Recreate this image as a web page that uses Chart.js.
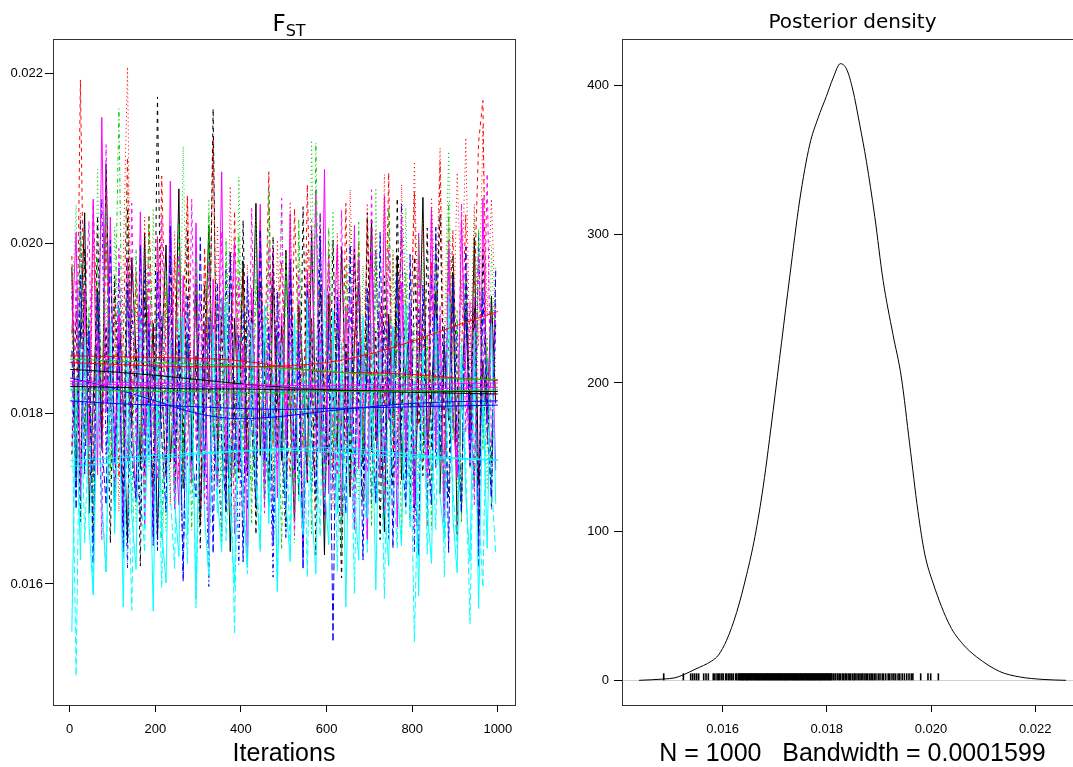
<!DOCTYPE html>
<html><head><meta charset="utf-8">
<script src="https://cdn.jsdelivr.net/npm/chart.js@4"></script>
<style>
html,body{margin:0;padding:0;overflow:hidden;background:#fff;width:1073px;height:767px}
#c1{position:absolute;left:0;top:0}
#c2{position:absolute;left:540px;top:0}
</style>
</head><body>
<canvas id="c1" width="545" height="767"></canvas>
<canvas id="c2" width="560" height="767"></canvas>
<script>
// ---------- DATA ----------
const ITER = [5,15,25,35,45,55,65,75,85,95,105,115,125,135,145,155,165,175,185,195,205,215,225,235,245,255,265,275,285,295,305,315,325,335,345,355,365,375,385,395,405,415,425,435,445,455,465,475,485,495,505,515,525,535,545,555,565,575,585,595,605,615,625,635,645,655,665,675,685,695,705,715,725,735,745,755,765,775,785,795,805,815,825,835,845,855,865,875,885,895,905,915,925,935,945,955,965,975,985,995];
const SMOOTH_ITER = [1,100,200,300,400,500,600,700,800,900,1000];

const CHAIN_1 = [.01972,.01724,.01891,.02036,.01683,.01815,.01947,.01762,.02093,.01838,.01691,.01924,.01807,.01648,.01983,.01869,.01735,.02012,.01789,.01906,.01652,.01874,.01998,.01743,.01831,.02064,.01712,.01893,.01776,.01958,.01669,.01847,.02021,.01794,.01715,.01936,.01862,.01638,.01912,.01803,.01979,.01727,.01858,.02047,.01751,.01884,.01692,.01963,.01821,.01745,.01992,.01806,.01673,.01927,.01848,.01719,.02015,.01783,.01869,.01634,.01941,.01825,.01757,.01996,.01813,.01702,.01888,.01954,.01741,.01859,.02028,.01768,.01834,.01661,.01917,.01795,.01986,.01722,.01853,.01906,.01689,.01842,.02054,.01763,.01817,.01944,.01706,.01878,.01792,.01965,.01658,.01831,.01923,.01774,.02007,.01716,.01862,.01795,.01938,.01812];
const CHAIN_2 = [.01985,.01762,.02192,.01843,.01714,.02046,.01891,.01757,.02013,.01806,.01948,.01725,.01882,.02101,.01793,.01967,.01836,.01701,.02034,.01874,.01745,.02079,.01862,.01798,.01986,.01723,.01912,.02057,.01784,.01869,.01692,.01995,.01835,.02124,.01768,.01923,.01856,.01714,.02038,.01817,.01964,.01749,.01892,.01683,.02017,.01846,.02084,.01763,.01907,.01978,.01804,.01726,.02041,.01873,.01759,.02069,.01834,.01691,.01952,.01821,.01993,.01737,.01916,.01785,.02047,.01712,.01868,.01996,.01774,.02028,.01842,.01695,.01931,.01808,.02083,.01756,.01889,.02012,.01738,.01857,.02061,.01786,.01924,.01667,.01978,.01833,.02096,.01752,.01881,.02015,.01729,.01867,.02034,.01781,.01945,.02119,.02168,.01764,.01902,.01815];
const CHAIN_3 = [.01926,.02045,.01752,.01983,.01839,.01694,.02087,.01805,.01937,.01718,.02019,.01864,.01747,.02063,.01826,.01673,.01992,.01887,.01734,.02041,.01798,.01915,.01662,.02027,.01853,.01759,.02114,.01842,.01716,.01969,.01874,.01701,.02052,.01813,.01948,.01726,.02006,.01869,.01657,.02078,.01787,.01934,.01709,.02031,.01846,.01762,.01983,.01721,.01895,.02047,.01773,.01906,.01648,.02015,.01852,.01736,.02121,.01809,.01962,.01697,.01884,.02038,.01745,.01867,.01714,.02023,.01831,.01698,.01974,.01858,.01763,.02065,.01812,.01927,.01681,.01993,.01846,.01739,.02042,.01804,.01907,.01668,.01978,.01853,.01724,.02017,.01785,.01889,.02108,.01816,.01703,.01957,.01842,.01736,.02029,.01807,.01883,.01711,.01996,.01848];
const CHAIN_4 = [.01943,.01706,.02028,.01782,.01911,.01647,.01889,.02053,.01752,.01856,.01684,.01973,.01803,.01619,.01924,.01827,.01673,.01968,.01751,.01862,.01638,.01914,.01789,.02017,.01702,.01835,.01612,.01886,.01741,.01982,.01683,.01817,.01597,.01904,.01763,.01656,.01973,.01728,.01843,.01623,.01921,.01687,.01839,.01718,.02004,.01694,.01806,.01608,.01897,.01762,.01653,.01958,.01744,.01851,.01627,.01923,.01706,.01832,.02036,.01681,.01847,.01712,.01945,.01642,.01886,.01757,.01668,.01981,.01734,.01852,.01694,.01993,.01778,.01904,.01652,.01869,.01741,.02047,.01706,.01873,.01638,.01927,.01812,.01689,.01962,.01735,.01858,.01664,.01991,.01782,.01904,.01679,.01946,.01803,.01713,.02012,.01776,.01865,.01687,.01938];
const CHAIN_5 = [.01832,.01492,.01876,.01648,.01793,.01587,.01865,.01702,.01614,.01837,.01683,.01924,.01628,.01771,.01569,.01853,.01714,.01637,.01896,.01672,.01808,.01596,.01847,.01706,.01618,.01912,.01743,.01624,.01859,.01572,.01787,.01883,.01646,.01801,.01683,.01937,.01651,.01768,.01541,.01844,.01719,.01612,.01892,.01752,.01637,.01928,.01707,.01826,.01593,.01869,.01781,.01643,.01918,.01697,.01843,.01608,.01896,.01775,.01656,.01947,.01739,.01851,.01615,.01884,.01712,.01829,.01589,.01872,.01764,.01637,.01906,.01694,.01817,.01583,.01862,.01726,.01642,.01898,.01682,.01803,.01532,.01747,.01874,.01635,.01793,.01664,.01903,.01608,.01826,.01711,.01642,.01881,.01738,.01553,.01846,.01687,.01596,.01868,.01723,.01634];
const CHAIN_6 = [.01894,.02013,.01712,.01946,.01763,.02052,.01728,.02148,.01802,.02031,.01746,.01917,.01668,.01983,.01791,.01704,.02037,.01775,.01926,.01657,.02008,.01834,.01726,.02073,.01787,.01693,.01962,.01812,.01718,.02024,.01753,.01906,.01642,.01958,.01806,.02084,.01711,.01869,.02002,.01734,.01881,.01625,.01947,.01784,.02046,.01722,.01853,.01991,.01701,.01918,.01769,.02035,.01723,.01896,.01649,.01969,.01812,.02063,.01754,.02087,.01706,.01874,.01998,.01681,.01927,.01778,.02021,.01735,.01882,.01652,.01989,.01816,.01724,.02056,.01793,.01901,.01667,.01954,.01768,.01925,.01694,.02012,.01823,.01738,.02039,.01759,.01912,.01673,.01994,.01797,.01725,.02028,.01851,.01741,.01937,.01638,.02053,.01789,.01914,.01733];
const CHAIN_7 = [.01752,.01921,.01673,.01994,.01808,.01726,.02032,.01779,.01903,.01648,.01962,.01817,.01704,.02041,.01786,.01878,.01621,.01943,.01802,.01715,.02172,.01836,.01727,.01985,.01689,.01892,.01764,.02016,.01743,.01868,.01642,.01951,.01817,.02158,.01751,.01914,.01683,.01992,.01797,.01724,.02027,.01782,.01923,.01658,.01956,.01838,.01719,.02008,.01761,.01903,.01667,.01974,.01826,.01705,.02043,.01794,.01912,.01634,.01947,.01816,.01738,.02004,.01781,.01607,.01884,.01729,.01993,.01808,.01696,.02036,.01755,.01897,.01652,.01962,.01823,.01714,.02053,.01786,.01931,.01675,.01984,.01812,.01727,.02018,.01759,.01893,.02034,.01798,.01702,.01986,.01842,.01691,.01957,.01806,.01924,.01661,.01993,.01817,.01742,.01908];
const CHAIN_8 = [.01957,.01743,.02036,.01827,.01708,.02003,.01884,.01756,.02059,.01801,.01923,.01685,.01978,.02207,.01794,.01945,.01738,.02031,.01852,.01704,.02008,.01819,.01947,.01693,.02014,.01837,.01726,.02052,.01798,.01926,.01671,.01983,.01824,.01719,.02021,.01853,.01746,.02067,.01783,.01912,.01662,.01975,.01836,.01711,.02027,.01792,.01918,.01703,.02004,.01826,.01735,.02049,.01803,.01934,.01676,.01992,.01847,.01728,.02036,.01809,.01937,.01691,.02012,.01854,.01752,.02063,.01878,.02003,.01746,.02047,.01863,.02015,.01792,.02081,.01851,.01986,.01767,.02069,.01924,.01832,.02096,.01873,.02028,.01758,.02054,.01917,.02112,.01846,.02031,.01864,.02083,.01927,.02124,.01852,.02046,.01879,.02138,.01914,.02052,.01897];
const CHAIN_9 = [.01903,.01721,.02012,.01768,.01926,.01657,.01984,.01806,.02043,.01732,.01879,.02158,.01763,.01946,.01682,.01993,.01817,.01706,.02031,.01776,.01918,.01651,.01967,.01829,.01703,.02024,.01748,.01891,.01663,.01987,.01792,.01714,.02036,.01773,.01935,.01648,.02001,.01843,.01726,.02011,.01752,.01903,.01672,.01958,.01821,.01697,.02064,.01768,.01892,.01641,.01986,.01787,.01718,.02029,.01764,.01913,.01659,.02118,.01784,.01721,.02019,.01763,.01898,.01637,.01974,.01829,.01702,.02025,.01754,.01906,.01668,.01983,.01812,.01709,.02042,.01774,.01925,.01651,.01967,.01818,.01726,.02007,.01748,.01895,.01664,.01992,.01807,.01712,.02048,.01769,.01921,.01673,.01956,.01834,.01718,.02017,.01757,.01889,.01694,.01972];
const CHAIN_10 = [.01874,.01688,.01963,.01729,.01897,.01624,.01941,.01768,.01693,.02004,.01742,.01883,.01638,.01952,.01756,.01697,.01998,.01731,.01906,.01645,.01967,.01771,.01684,.02021,.01743,.01886,.01603,.01938,.01757,.01702,.02007,.01726,.01913,.01636,.01954,.01764,.01689,.01989,.01738,.01892,.01626,.01961,.01787,.01694,.02016,.01745,.01902,.01648,.01943,.01768,.01687,.01982,.01734,.01897,.01617,.01952,.01773,.01706,.02009,.01741,.01906,.01532,.01937,.01756,.01683,.01998,.01727,.01884,.01628,.01947,.01771,.01696,.02013,.01742,.01905,.01642,.01962,.01758,.01691,.01987,.01729,.01634,.01951,.01776,.01693,.02019,.01748,.01902,.01637,.01958,.01763,.01684,.01996,.01738,.01887,.01619,.01943,.01781,.01702,.01968];
const CHAIN_11 = [.01544,.01843,.01628,.01891,.01672,.01587,.01869,.01693,.01614,.01908,.01659,.01832,.01573,.01867,.01681,.01617,.01924,.01665,.01813,.01568,.01859,.01662,.01601,.01887,.01698,.01632,.01914,.01657,.01838,.01582,.01862,.01678,.01609,.01896,.01704,.01638,.01931,.01683,.01597,.01872,.01692,.01619,.01906,.01716,.01643,.01927,.01671,.01848,.01591,.01883,.01697,.01626,.01912,.01724,.01658,.01936,.01689,.01612,.01894,.01718,.01646,.01921,.01682,.01853,.01573,.01867,.01701,.01628,.01915,.01677,.01842,.01593,.01886,.01694,.01621,.01903,.01712,.01645,.01928,.01667,.01838,.01586,.01874,.01689,.01624,.01912,.01703,.01652,.01937,.01678,.01613,.01869,.01706,.01626,.01898,.01571,.01827,.01642,.01906,.01694];
const CHAIN_12 = [.01763,.01958,.01702,.01921,.02026,.01734,.01897,.01652,.02116,.01779,.01718,.01994,.01802,.01743,.02047,.01761,.01926,.01668,.01973,.01794,.01723,.02031,.01781,.01928,.01686,.01987,.01818,.01739,.02052,.01767,.01939,.01694,.01978,.01786,.01712,.02014,.01758,.01917,.01659,.01962,.01797,.01728,.02041,.01773,.01924,.01683,.01996,.01809,.01735,.02053,.01764,.01913,.01657,.01968,.01792,.01721,.02028,.01754,.01903,.01678,.01982,.01801,.01727,.02039,.01768,.01935,.01662,.01984,.01812,.01731,.02063,.01772,.01918,.01684,.01993,.01789,.01716,.02031,.01758,.01912,.01667,.01978,.01796,.01724,.02042,.01775,.01928,.01681,.02004,.01803,.01742,.02047,.01778,.01932,.01693,.01986,.01817,.02082,.01762,.01927];

const SMOOTH_1 = [.01852,.01849,.01845,.01840,.01835,.01831,.01828,.01826,.01825,.01824,.01823];
const SMOOTH_2 = [.01868,.01867,.01866,.01865,.01862,.01855,.01849,.01848,.01846,.01842,.01839];
const SMOOTH_3 = [.01864,.01862,.01860,.01858,.01856,.01853,.01850,.01846,.01843,.01841,.01840];
const SMOOTH_4 = [.01842,.01830,.01815,.01800,.01794,.01797,.01803,.01808,.01812,.01814,.01815];
const SMOOTH_5 = [.01738,.01742,.01747,.01752,.01756,.01759,.01760,.01757,.01752,.01748,.01746];
const SMOOTH_6 = [.01835,.01834,.01833,.01832,.01831,.01830,.01830,.01829,.01829,.01830,.01831];
const SMOOTH_7 = [.01832,.01831,.01830,.01829,.01829,.01828,.01828,.01827,.01827,.01826,.01826];
const SMOOTH_8 = [.01860,.01858,.01856,.01855,.01855,.01856,.01860,.01870,.01885,.01903,.01920];
const SMOOTH_9 = [.01828,.01827,.01826,.01826,.01825,.01825,.01826,.01826,.01827,.01827,.01828];
const SMOOTH_10 = [.01815,.01812,.01810,.01808,.01806,.01805,.01806,.01807,.01808,.01809,.01810];
const SMOOTH_11 = [.01745,.01748,.01751,.01754,.01756,.01757,.01755,.01752,.01749,.01747,.01745];
const SMOOTH_12 = [.01838,.01837,.01836,.01835,.01834,.01833,.01833,.01834,.01834,.01835,.01836];

const TRACE_Y_TICKS = [0.016,0.018,0.020,0.022];
const TRACE_Y_LABELS = ["0.016","0.018","0.020","0.022"];
const TRACE_X_TICKS = [0,200,400,600,800,1000];
const TRACE_X_LABELS = ["0","200","400","600","800","1000"];

const DENS_X = [.014396,.014863,.015086,.015246,.01547,.01579,.01592,.016077,.016268,.01646,.01662,.01678,.01697,.01713,.01729,.01748,.01767,.01783,.01799,.01812,.01826,.01838,.0185,.01863,.01876,.01892,.01908,.01927,.01943,.01959,.01975,.01988,.02004,.02036,.02061,.02087,.02132,.0217,.02215,.02259];
const DENS_Y = [0,0.85,1.7,3.7,7.4,13,17,27,45.6,71,96.6,130.6,181.6,227,272,323,360,378,392.6,405,414.7,411,397,374,349,312,269,232.6,204,159,113.6,85,65.4,37,24.4,15.9,5.9,2.3,0.6,0];
const RUG_X = [.014869,.015246,.015387,.015425,.015463,.015502,.01554,.015636,.015681,.015725,
.01582,.015851,.015893,.015918,.015947,.015985,.016012,.016058,.016081,.016117,.016142,.016175,.016203,.016248,.016271,
.016302,.016318,.016331,.016349,.016367,.016379,.016396,.016411,.016428,.016447,.016459,.016476,.016492,.016508,.016523,.016541,.016557,.016566,.016584,.016601,.016619,.016628,.016645,.016663,.016678,.016692,.016711,.016723,.016739,.016758,.016772,.016786,.016803,.016821,.016834,.016849,.016867,.016881,.016897,.016912,.016928,.016943,.016958,.016974,.016989,.017006,.017021,.017034,.017052,.017067,.017083,.017098,.017112,.017129,.017146,.017158,.017176,.017191,.017204,.017222,.017238,.017251,.017268,.017284,.017297,.017315,.017331,.017344,.017362,.017377,.017393,.017408,.017421,.017439,.017456,.017468,.017487,.017502,.017515,.017533,.017549,.017562,.017581,.017596,.017609,.017627,.017643,.017656,.017674,.01769,.017703,.017721,.017737,.01775,.017768,.017784,.017797,.017815,.017832,.017846,.017861,.017878,.017893,.017909,.017924,.017938,.017956,.017971,.017987,.018003,.018019,.018034,.018052,.018068,.018083,.018097,
.018126,.018158,.018173,.018211,.018239,.018262,.018298,.018321,.018352,.018374,.018409,.018437,.018461,.018498,.018527,.018543,.018579,.018611,.018638,.018672,.018694,.018731,.018759,.018786,.018823,.018851,.018879,.018912,.018943,.018987,.019021,.019064,.019089,.019131,.019178,.019209,.019251,.019287,.019322,.019368,.019401,.019447,.019489,.019534,.019578,.019621,.019652,
.019802,.019942,.019994,.020141];
const DENS_Y_TICKS = [0,100,200,300,400];
const DENS_Y_LABELS = ["0","100","200","300","400"];
const DENS_X_TICKS = [0.016,0.018,0.020,0.022];
const DENS_X_LABELS = ["0.016","0.018","0.020","0.022"];

// ---------- STYLE ----------
const CHAIN_COLORS = ['#000000','#FF0000','#00CD00','#0000FF','#00FFFF','#FF00FF'];
const CHAIN_DASHES = [[],[4,4],[1,3],[1,3,4,3],[7,3]];
const TICK_FONT = {family:'Liberation Sans', size:13};

Chart.defaults.font.family = 'Liberation Sans';

const chains = [CHAIN_1,CHAIN_2,CHAIN_3,CHAIN_4,CHAIN_5,CHAIN_6,CHAIN_7,CHAIN_8,CHAIN_9,CHAIN_10,CHAIN_11,CHAIN_12];
const smooths = [SMOOTH_1,SMOOTH_2,SMOOTH_3,SMOOTH_4,SMOOTH_5,SMOOTH_6,SMOOTH_7,SMOOTH_8,SMOOTH_9,SMOOTH_10,SMOOTH_11,SMOOTH_12];

// Chart.js draws higher "order" first: chain 1 at the bottom, chain 12 on top, smooths above all.
const traceSets = chains.map((vals,i)=>({
  data: vals.map((v,j)=>({x:ITER[j], y:v})),
  borderColor: CHAIN_COLORS[i%6], borderDash: CHAIN_DASHES[i%5],
  borderWidth: 1, pointRadius: 0, tension: 0, fill: false, order: 100 - i
}));
const smoothSets = smooths.map((vals,i)=>({
  data: vals.map((v,j)=>({x:SMOOTH_ITER[j], y:v})),
  borderColor: CHAIN_COLORS[i%6], borderWidth: 1, pointRadius: 0,
  cubicInterpolationMode:'monotone', fill:false, order: 50 - i
}));

function boxPlugin(drawText){
  return {
    id:'box'+Math.random().toString(36).slice(2),
    beforeDatasetsDraw(chart){ if(drawText.before) drawText.before(chart); },
    afterDraw(chart){
      const a = chart.chartArea, ctx = chart.ctx;
      ctx.save();
      ctx.strokeStyle = '#333'; ctx.lineWidth = 1;
      ctx.strokeRect(Math.round(a.left)+0.5, Math.round(a.top)+0.5, Math.round(a.right-a.left), Math.round(a.bottom-a.top));
      ctx.fillStyle = '#000';
      drawText.after(chart, ctx);
      ctx.restore();
    }
  };
}

function scaleCfg(min, max, ticks, labels, fitProp, fitVal, tickLen, pad){
  return {
    type:'linear', min:min, max:max,
    afterBuildTicks: s => { s.ticks = ticks.map(v=>({value:v})); },
    afterFit: s => { s[fitProp] = fitVal; },
    ticks:{ callback:(v,i)=>labels[i], font:TICK_FONT, color:'#000', padding:pad, maxRotation:0, autoSkip:false },
    grid:{ drawOnChartArea:false, drawTicks:true, tickLength:tickLen, color:'#000', lineWidth:1 },
    border:{ display:false }
  };
}

// ---------- LEFT: trace ----------
new Chart(document.getElementById('c1'), {
  type:'line',
  data:{ datasets: traceSets.concat(smoothSets) },
  options:{
    responsive:false, animation:false, devicePixelRatio:1, events:[],
    layout:{ padding:{ top:39, right:30, left:0, bottom:0 } },
    plugins:{ legend:{display:false}, tooltip:{enabled:false}, title:{display:false} },
    scales:{
      x: scaleCfg(-39, 1040, TRACE_X_TICKS, TRACE_X_LABELS, 'height', 62, 7, 10),
      y: scaleCfg(0.014578, 0.0224, TRACE_Y_TICKS, TRACE_Y_LABELS, 'width', 53, 8, 2)
    }
  },
  plugins:[ boxPlugin({ after(chart, ctx){
    const a = chart.chartArea; const cx = (a.left + a.right)/2;
    ctx.font = '23px "DejaVu Sans"';
    const wF = ctx.measureText('F').width;
    ctx.font = '16px "DejaVu Sans"';
    const wS = ctx.measureText('ST').width;
    const x0 = cx + 5 - (wF + wS)/2;
    ctx.textAlign = 'left'; ctx.textBaseline = 'alphabetic';
    ctx.font = '23px "DejaVu Sans"'; ctx.fillText('F', x0, 31);
    ctx.font = '16px "DejaVu Sans"'; ctx.fillText('ST', x0 + wF, 36);
    ctx.font = '25px "Liberation Sans"'; ctx.textAlign = 'center';
    ctx.fillText('Iterations', cx, 761);
  }}) ]
});

// ---------- RIGHT: density ----------
new Chart(document.getElementById('c2'), {
  type:'line',
  data:{ datasets:[
    { data: DENS_X.map((v,i)=>({x:v, y:DENS_Y[i]})), borderColor:'#000', borderWidth:1,
      pointRadius:0, cubicInterpolationMode:'monotone', fill:false },
    { data: RUG_X.map(v=>({x:v, y:2.35})), showLine:false, pointStyle:'line', pointRotation:90,
      pointRadius:3.5, pointBorderWidth:1.6, pointBorderColor:'#000', pointBackgroundColor:'#000' }
  ]},
  options:{
    responsive:false, animation:false, devicePixelRatio:1, events:[],
    layout:{ padding:{ top:39, right:17, left:0, bottom:0 } },
    plugins:{ legend:{display:false}, tooltip:{enabled:false}, title:{display:false} },
    scales:{
      x: scaleCfg(0.014068, 0.022918, DENS_X_TICKS, DENS_X_LABELS, 'height', 62, 7, 10),
      y: scaleCfg(-16.6, 431.3, DENS_Y_TICKS, DENS_Y_LABELS, 'width', 82, 8, 5)
    }
  },
  plugins:[ boxPlugin({
    before(chart){
      const a = chart.chartArea, ctx = chart.ctx, y = Math.round(chart.scales.y.getPixelForValue(0))+0.5;
      ctx.save(); ctx.strokeStyle = '#d0d0d0'; ctx.lineWidth = 1;
      ctx.beginPath(); ctx.moveTo(a.left, y); ctx.lineTo(a.right, y); ctx.stroke(); ctx.restore();
    },
    after(chart, ctx){
      const a = chart.chartArea; const cx = (a.left + a.right)/2;
      ctx.textAlign = 'center'; ctx.textBaseline = 'alphabetic';
      ctx.font = '20px "DejaVu Sans"'; ctx.fillText('Posterior density', cx, 28);
      ctx.font = '25px "Liberation Sans"';
      ctx.fillText('N = 1000   Bandwidth = 0.0001599', cx, 761);
    }
  }) ]
});
</script>
</body></html>
